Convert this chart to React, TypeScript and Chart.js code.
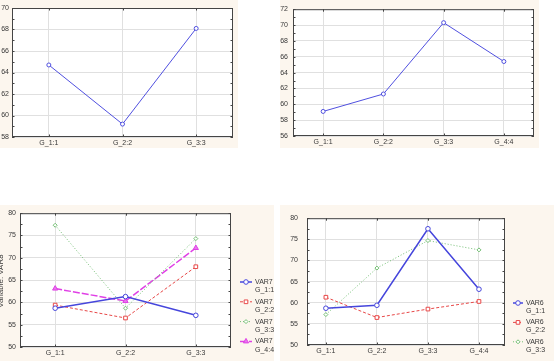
import React, { useEffect, useRef } from "react";
import { Chart, registerables } from "chart.js";
import { drawPoint } from "chart.js/helpers";
Chart.register(...registerables);

// ---------- data ----------
const catsA = ["G_1:1", "G_2:2", "G_3:3"];
const valsA = [64.7, 59.2, 68.1];
const yTicksA = [58, 60, 62, 64, 66, 68, 70];

const catsB = ["G_1:1", "G_2:2", "G_3:3", "G_4:4"];
const valsB = [59.1, 61.3, 70.3, 65.4];
const yTicksB = [56, 58, 60, 62, 64, 66, 68, 70, 72];

const catsC = ["G_1:1", "G_2:2", "G_3:3"];
const namesC = ["VAR7", "VAR7", "VAR7", "VAR7"];
const groupsC = ["G_1:1", "G_2:2", "G_3:3", "G_4:4"];
const c1 = [58.7, 61.3, 57.1];
const c2 = [59.4, 56.5, 68.0];
const c3 = [77.3, 58.7, 74.3];
const c4 = [63.1, 60.3, 72.2];
const yTicksC = [50, 55, 60, 65, 70, 75, 80];
const yTitleC = "Variable: VAR8";

const catsD = ["G_1:1", "G_2:2", "G_3:3", "G_4:4"];
const namesD = ["VAR6", "VAR6", "VAR6"];
const groupsD = ["G_1:1", "G_2:2", "G_3:3"];
const d1 = [58.7, 59.4, 77.5, 63.2];
const d2 = [61.3, 56.5, 58.5, 60.3];
const d3 = [57.2, 68.2, 74.7, 72.5];
const yTicksD = [50, 55, 60, 65, 70, 75, 80];

// ---------- styles ----------
const FONT = "'Liberation Sans', Arial, sans-serif";
const CREAM = "#fcf6ee";
const GRID = "#e0e0e0";
const FRAME = "#454545";
const TEXT = "#383838";

type Style = {
  color: string;
  width: number;
  dash: number[];
  point: any;
  radius: number;
  fill: string;
};
const sBlueThin: Style = { color: "#5050e0", width: 1, dash: [], point: "circle", radius: 2, fill: "#ffffff" };
const sBlue: Style = { color: "#4646dc", width: 1.5, dash: [], point: "circle", radius: 2.3, fill: "#ffffff" };
const sRed: Style = { color: "#e84848", width: 1, dash: [3, 2], point: "rect", radius: 2.6, fill: "#ffffff" };
const sGreen: Style = { color: "#74bf74", width: 1, dash: [1, 2], point: "rectRot", radius: 2, fill: "#ffffff" };
const sMagenta: Style = { color: "#e040e6", width: 1.5, dash: [7, 2], point: "triangle", radius: 3, fill: "#e878ec" };

type Series = { data: number[]; style: Style; name?: string; group?: string };

type LegendCfg = { x0: number; x1: number; tx: number; y0: number; dy: number; line2: number };

type PanelProps = {
  box: [number, number, number, number];
  plot: { l: number; t: number; r: number; b: number };
  cats: string[];
  xRange: [number, number];
  yTicks: number[];
  yPad: number;
  series: Series[];
  legend?: LegendCfg;
  yTitle?: string;
};

function Panel(p: PanelProps) {
  const ref = useRef<HTMLCanvasElement | null>(null);
  const [bx, by, W, H] = p.box;
  useEffect(() => {
    const canvas = ref.current!;
    const yMin = p.yTicks[0];
    const yMax = p.yTicks[p.yTicks.length - 1];
    const yMinor = (p.yTicks[1] - p.yTicks[0]) / 2;

    const frame = {
      id: "frame" + bx + by,
      beforeDraw(chart: any) {
        const { ctx, chartArea: a } = chart;
        ctx.save();
        ctx.fillStyle = "#ffffff";
        ctx.fillRect(a.left, a.top, a.right - a.left, a.bottom - a.top);
        ctx.restore();
      },
      afterDraw(chart: any) {
        const { ctx, chartArea: a } = chart;
        const ys = chart.scales.y;
        const xs = chart.scales.x;
        ctx.save();
        ctx.strokeStyle = FRAME;
        ctx.lineWidth = 1;
        ctx.setLineDash([]);
        ctx.strokeRect(a.left + 0.5, a.top + 0.5, a.right - a.left - 1, a.bottom - a.top - 1);
        ctx.beginPath();
        for (let v = yMin; v <= yMax + 1e-9; v += yMinor) {
          const py = Math.round(ys.getPixelForValue(v)) + 0.5;
          ctx.moveTo(a.left, py);
          ctx.lineTo(a.left + 2.5, py);
          ctx.moveTo(a.right - 2.5, py);
          ctx.lineTo(a.right, py);
        }
        p.cats.forEach((_, i) => {
          const px = Math.round(xs.getPixelForValue(i)) + 0.5;
          ctx.moveTo(px, a.top);
          ctx.lineTo(px, a.top + 2.5);
          ctx.moveTo(px, a.bottom);
          ctx.lineTo(px, a.bottom - 2.5);
        });
        ctx.stroke();

        if (p.legend) {
          const lg = p.legend;
          ctx.font = "7px " + FONT;
          ctx.textBaseline = "middle";
          ctx.textAlign = "left";
          p.series.forEach((s, i) => {
            const y = lg.y0 + i * lg.dy;
            ctx.strokeStyle = s.style.color;
            ctx.lineWidth = s.style.width;
            ctx.setLineDash(s.style.dash);
            ctx.beginPath();
            ctx.moveTo(lg.x0, y);
            ctx.lineTo(lg.x1, y);
            ctx.stroke();
            ctx.setLineDash([]);
            ctx.lineWidth = 1;
            ctx.fillStyle = s.style.fill;
            drawPoint(ctx, { pointStyle: s.style.point, radius: s.style.radius, rotation: 0, borderWidth: 1 } as any, (lg.x0 + lg.x1) / 2, y);
            ctx.fillStyle = TEXT;
            ctx.fillText(s.name || "", lg.tx, y);
            ctx.fillText(s.group || "", lg.tx, y + lg.line2);
          });
        }
        if (p.yTitle) {
          ctx.save();
          ctx.translate(2.5, (a.top + a.bottom) / 2 + 1);
          ctx.rotate(-Math.PI / 2);
          ctx.font = "8px " + FONT;
          ctx.fillStyle = TEXT;
          ctx.textAlign = "center";
          ctx.textBaseline = "alphabetic";
          ctx.fillText(p.yTitle, 0, 0);
          ctx.restore();
        }
        ctx.restore();
      },
    };

    const chart = new Chart(canvas, {
      type: "line",
      data: {
        datasets: p.series.map((s) => ({
          data: s.data.map((v, i) => ({ x: i, y: v })),
          borderColor: s.style.color,
          borderWidth: s.style.width,
          borderDash: s.style.dash,
          pointStyle: s.style.point,
          pointRadius: s.style.radius,
          pointBorderWidth: 1,
          pointBorderColor: s.style.color,
          pointBackgroundColor: s.style.fill,
          fill: false,
          tension: 0,
        })),
      },
      options: {
        responsive: false,
        animation: false,
        events: [],
        layout: { padding: { left: 0, top: p.plot.t, right: W - p.plot.r, bottom: 0 } },
        plugins: { legend: { display: false }, tooltip: { enabled: false }, title: { display: false } },
        scales: {
          x: {
            type: "linear",
            min: p.xRange[0],
            max: p.xRange[1],
            afterBuildTicks: (s: any) => {
              s.ticks = p.cats.map((_, i) => ({ value: i }));
            },
            afterFit: (s: any) => {
              s.height = H - p.plot.b;
            },
            ticks: {
              callback: (v: any) => p.cats[Math.round(v)],
              font: { family: FONT, size: 7 },
              color: TEXT,
              padding: 2,
              maxRotation: 0,
              autoSkip: false,
            },
            grid: { color: GRID, drawTicks: false, lineWidth: 1 },
            border: { display: false },
          },
          y: {
            type: "linear",
            min: yMin,
            max: yMax,
            afterBuildTicks: (s: any) => {
              s.ticks = p.yTicks.map((v) => ({ value: v }));
            },
            afterFit: (s: any) => {
              s.width = p.plot.l;
            },
            ticks: {
              callback: (v: any) => String(v),
              font: { family: FONT, size: 7 },
              color: TEXT,
              padding: p.yPad,
              autoSkip: false,
            },
            grid: { color: GRID, drawTicks: false, lineWidth: 1 },
            border: { display: false },
          },
        },
      } as any,
      plugins: [frame],
    });
    return () => chart.destroy();
  }, []);
  return (
    <div style={{ position: "absolute", left: bx, top: by, width: W, height: H, background: CREAM }}>
      <canvas ref={ref} width={W} height={H} style={{ display: "block", width: W, height: H }} />
    </div>
  );
}

export default function App() {
  return (
    <div style={{ position: "absolute", left: 0, top: 0, width: 554, height: 361, background: "#ffffff", overflow: "hidden" }}>
      <Panel
        box={[0, 0, 238, 148]}
        plot={{ l: 12, t: 8, r: 233, b: 137 }}
        cats={catsA}
        xRange={[-0.5, 2.5]}
        yTicks={yTicksA}
        yPad={3}
        series={[{ data: valsA, style: sBlueThin }]}
      />
      <Panel
        box={[280, 0, 259, 148]}
        plot={{ l: 13, t: 9, r: 256, b: 136 }}
        cats={catsB}
        xRange={[-0.5, 3.5]}
        yTicks={yTicksB}
        yPad={5}
        series={[{ data: valsB, style: sBlueThin }]}
      />
      <Panel
        box={[0, 205, 274, 156]}
        plot={{ l: 20, t: 5, r: 231, b: 142 }}
        cats={catsC}
        xRange={[-0.5, 2.5]}
        yTicks={yTicksC}
        yPad={4}
        yTitle={yTitleC}
        series={[
          { data: c1, style: sBlue, name: namesC[0], group: groupsC[0] },
          { data: c2, style: sRed, name: namesC[1], group: groupsC[1] },
          { data: c3, style: sGreen, name: namesC[2], group: groupsC[2] },
          { data: c4, style: sMagenta, name: namesC[3], group: groupsC[3] },
        ]}
        legend={{ x0: 240, x1: 252, tx: 255, y0: 77, dy: 19.8, line2: 8.5 }}
      />
      <Panel
        box={[280, 205, 274, 156]}
        plot={{ l: 27, t: 7, r: 225, b: 140 }}
        cats={catsD}
        xRange={[-0.37, 3.51]}
        yTicks={yTicksD}
        yPad={9}
        series={[
          { data: d1, style: sBlue, name: namesD[0], group: groupsD[0] },
          { data: d2, style: sRed, name: namesD[1], group: groupsD[1] },
          { data: d3, style: sGreen, name: namesD[2], group: groupsD[2] },
        ]}
        legend={{ x0: 233, x1: 243, tx: 246, y0: 98, dy: 19.4, line2: 7.8 }}
      />
    </div>
  );
}
